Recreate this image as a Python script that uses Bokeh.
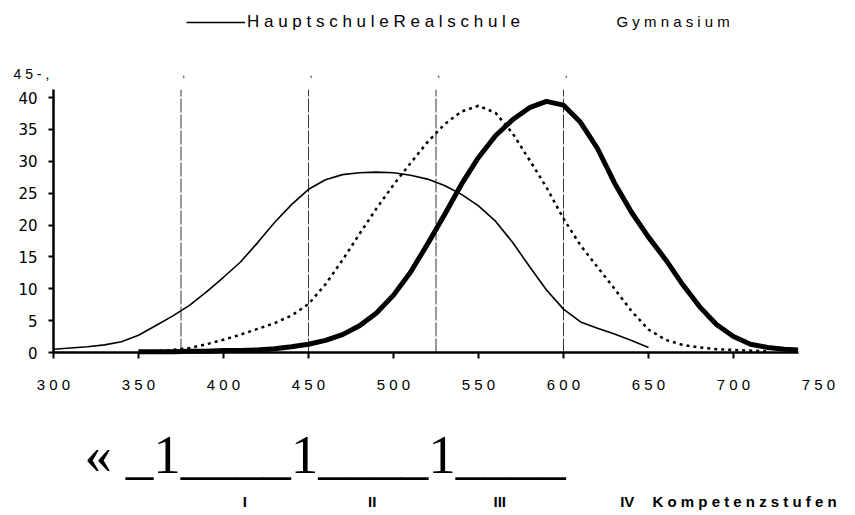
from bokeh.plotting import figure
from bokeh.models import (Range1d, LinearAxis, FixedTicker, Label, LabelSet,
                          Legend, LegendItem, ColumnDataSource)
from bokeh.core.properties import value
from bokeh.embed import file_html
from bokeh.resources import INLINE

# ---------------- data ----------------
haupt_x = [300, 310, 320, 330, 340, 350, 360, 370, 380, 390, 400, 410, 420, 430, 440,
           450, 460, 470, 480, 490, 500, 510, 520, 530, 540, 550, 560, 570, 580, 590,
           600, 610, 620, 630, 640, 650]
haupt_y = [0.5, 0.7, 0.9, 1.2, 1.7, 2.7, 4.2, 5.7, 7.4, 9.5, 11.8, 14.2, 17.2, 20.4, 23.2,
           25.6, 27.1, 27.9, 28.2, 28.3, 28.2, 27.8, 27.2, 26.2, 24.8, 23.0, 20.6, 17.3, 13.5, 9.8,
           6.8, 4.8, 3.8, 2.9, 1.9, 0.8]

real_x = [350, 360, 370, 380, 390, 400, 410, 420, 430, 440, 450, 460, 470, 480, 490,
          500, 510, 520, 530, 540, 550, 560, 570, 580, 590, 600, 610, 620, 630, 640,
          650, 660, 670, 680, 690, 700, 710, 720]
real_y = [0.1, 0.2, 0.4, 0.7, 1.3, 2.0, 2.8, 3.7, 4.6, 5.8, 7.6, 10.7, 14.5, 18.6, 22.6,
          26.3, 29.7, 33.0, 35.8, 37.8, 38.7, 37.6, 34.4, 30.2, 25.9, 21.0, 16.8, 13.4, 10.0, 6.5,
          3.6, 2.0, 1.2, 0.8, 0.5, 0.4, 0.3, 0.2]

gym_x = [350, 360, 370, 380, 390, 400, 410, 420, 430, 440, 450, 460, 470, 480, 490,
         500, 510, 520, 530, 540, 550, 560, 570, 580, 590, 600, 610, 620, 630, 640,
         650, 660, 670, 680, 690, 700, 710, 720, 730, 738]
gym_y = [0.1, 0.1, 0.1, 0.2, 0.2, 0.3, 0.3, 0.4, 0.6, 0.9, 1.3, 1.9, 2.8, 4.2, 6.2,
         9.0, 12.6, 17.0, 21.6, 26.4, 30.6, 34.0, 36.5, 38.4, 39.4, 38.8, 36.1, 32.0, 26.6, 22.0,
         18.1, 14.6, 10.7, 7.2, 4.4, 2.5, 1.3, 0.8, 0.5, 0.4]

stufe_cuts = [375, 450, 525, 600]
stufe_labels = ["I", "II", "III", "IV"]
stufe_centers = [412.5, 487.5, 562.5, 637.5]

x_ticks = [300, 350, 400, 450, 500, 550, 600, 650, 700, 750]
y_ticks = [0, 5, 10, 15, 20, 25, 30, 35, 40]

legend_label = "H a u p t s c h u l e R e a l s c h u l e"
gym_label = "G y m n a s i u m"
top_label = "4 5 - ,"
ocr_line = "\u00ab _1____1____1____"
kompetenz = "K o m p e t e n z s t u f e n"

# ---------------- layout (pixels) ----------------
W, H = 855, 515
X0_PX, XSCALE = 53, 1.7        # x=300 sits at 53 px, 1.7 px per point
Y0_PX, YSCALE = 352, 6.375     # y=0 sits at 352 px, 6.375 px per percent
x_start = 300 - X0_PX / XSCALE
y_end = Y0_PX / YSCALE
LINE_TOP = 41.2

p = figure(width=W, height=H, output_backend="svg", toolbar_location=None,
           x_range=Range1d(x_start, x_start + W / XSCALE),
           y_range=Range1d(y_end - H / YSCALE, y_end),
           x_axis_type=None, y_axis_type=None,
           min_border=0)
p.outline_line_color = None
p.background_fill_color = "white"
p.border_fill_color = "white"

# x axis: line + ticks
xa = LinearAxis(fixed_location=0, ticker=FixedTicker(ticks=x_ticks[:-1]),
                bounds=(300, gym_x[-1]),
                axis_line_width=2.5, axis_line_color="black",
                major_tick_line_width=2, major_tick_out=6, major_tick_in=0,
                minor_tick_line_color=None, major_label_text_color=None)
p.add_layout(xa, "below")
# x axis: tick labels
xl = LinearAxis(fixed_location=0, ticker=FixedTicker(ticks=x_ticks),
                axis_line_color=None, major_tick_line_color=None, minor_tick_line_color=None,
                major_tick_out=0, major_tick_in=0,
                major_label_overrides={t: " ".join(str(t)) for t in x_ticks},
                major_label_text_font="Liberation Sans", major_label_text_font_size="15px",
                major_label_text_color="black", major_label_standoff=23)
p.add_layout(xl, "below")

ya = LinearAxis(fixed_location=300, ticker=FixedTicker(ticks=y_ticks), bounds=(0, LINE_TOP),
                axis_line_width=2.5, axis_line_color="black",
                major_tick_line_width=2, major_tick_out=5, major_tick_in=0,
                minor_tick_line_color=None,
                major_label_text_font="DejaVu Sans", major_label_text_font_size="15px",
                major_label_text_color="black", major_label_standoff=11)
p.add_layout(ya, "left")

# competence level boundaries
p.segment(x0=stufe_cuts, y0=[0] * 4, x1=stufe_cuts, y1=[LINE_TOP] * 4,
          line_color="#333333", line_width=1, line_dash="14 2")
p.text(x=[c + 1.5 for c in stufe_cuts], y=[43.8] * 4, text=[","] * 4,
       text_font=value("Liberation Sans"), text_font_size="10px",
       text_align="center", text_baseline="middle", text_color="black")

# curves
r_h = p.line(haupt_x, haupt_y, line_color="black", line_width=1.6)
r_r = p.line(real_x, real_y, line_color="black", line_width=2.5, line_dash="3 4")
r_g = p.line(gym_x, gym_y, line_color="black", line_width=5)

legend = Legend(items=[LegendItem(label=legend_label, renderers=[r_h])],
                location=(186, H - 32), glyph_width=59, glyph_height=20,
                label_standoff=2, padding=0, margin=0, spacing=0,
                border_line_color=None, background_fill_alpha=0,
                label_text_font="Liberation Sans", label_text_font_size="17px",
                label_text_color="black")
p.add_layout(legend)

p.add_layout(Label(x=616, y=H - 21, x_units="screen", y_units="screen", text=gym_label,
                   text_font="Liberation Sans", text_font_size="15px",
                   text_baseline="middle", text_align="left", text_color="black"))

p.add_layout(Label(x=13, y=45, x_units="screen", y_units="data", text=top_label,
                   text_font="Liberation Sans", text_font_size="14px",
                   text_baseline="top", text_align="left", text_color="black"))

p.add_layout(Label(x=84, y=H - 454, x_units="screen", y_units="screen", text=ocr_line,
                   text_font="Liberation Serif", text_font_size="55px",
                   text_baseline="alphabetic", text_align="left", text_color="black"))

src = ColumnDataSource(dict(x=stufe_centers, y=[H - 501] * 4, t=stufe_labels))
p.add_layout(LabelSet(x="x", y="y", y_units="screen", text="t", source=src,
                      text_font=value("Liberation Sans"), text_font_size="15px",
                      text_font_style="bold", text_align="center",
                      text_baseline="middle", text_color="black"))

p.add_layout(Label(x=652, y=H - 501, x_units="screen", y_units="screen", text=kompetenz,
                   text_font="Liberation Sans", text_font_size="15px", text_font_style="bold",
                   text_baseline="middle", text_align="left", text_color="black"))

open("out.html", "w").write(file_html(p, INLINE))
